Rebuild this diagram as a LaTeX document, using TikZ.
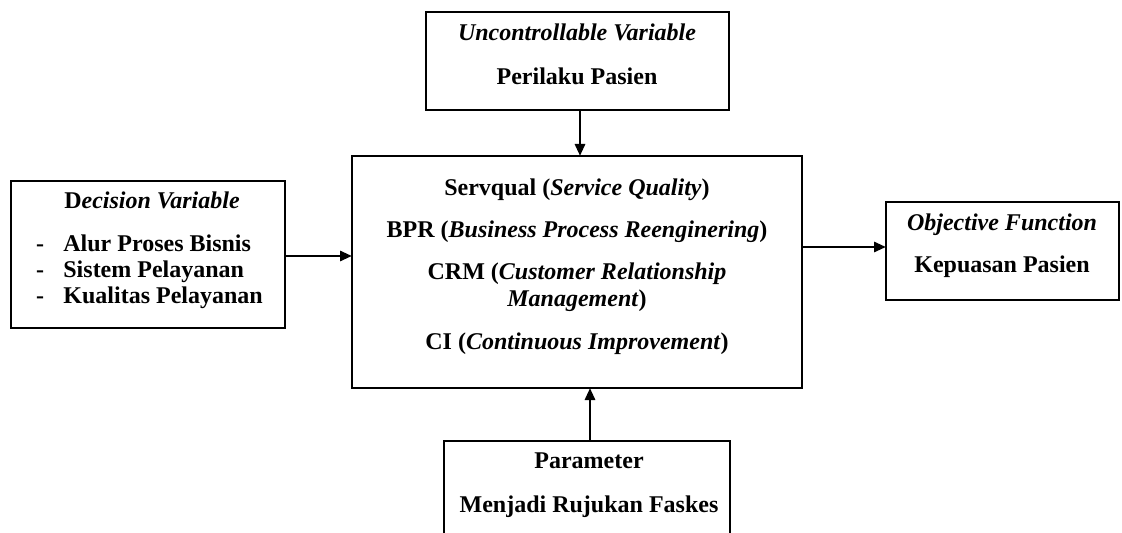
\documentclass[tikz,border=0pt]{standalone}
\usepackage{fontspec}
\setmainfont{Liberation Serif}
\usetikzlibrary{arrows.meta}
\begin{document}
\begin{tikzpicture}[x=0.5pt,y=-0.5pt,
  box/.style={draw,line width=1pt,inner sep=0pt,outer sep=0pt,rectangle},
  txt/.style={font=\fontsize{12pt}{14pt}\selectfont\bfseries,inner sep=0pt,anchor=base},
  arr/.style={line width=1.4pt,-{Triangle[length=6pt,width=5pt]}}]
\clip (0,0) rectangle (1122,533);
\fill[white] (0,0) rectangle (1122,533);
% boxes
\node[box,minimum width=151.5pt,minimum height=49pt] (top) at (577.5,61) {};
\node[box,minimum width=225pt,minimum height=116pt] (main) at (577,272) {};
\node[box,minimum width=137pt,minimum height=73.5pt] (left) at (148,254.5) {};
\node[box,minimum width=116.5pt,minimum height=49pt] (right) at (1002.5,251) {};
\node[box,minimum width=143pt,minimum height=59.5pt] (bot) at (587,500.5) {};
% texts top
\node[txt] (t1) at (577,41) {\textit{Uncontrollable Variable}};
\node[txt] (t2) at (577,85) {Perilaku Pasien};
% main
\node[txt] (m1) at (577,196) {Servqual (\textit{Service Quality})};
\node[txt] (m2) at (577,238) {BPR (\textit{Business Process Reenginering})};
\node[txt] (m3) at (577,280) {CRM (\textit{Customer Relationship}};
\node[txt] (m3b) at (577,307) {\textit{Management})};
\node[txt] (m4) at (577,350) {CI (\textit{Continuous Improvement})};
% left
\node[txt] (l0) at (152,209) {D\textit{ecision Variable}};
\node[txt] (d1) at (40,252) {-};
\node[txt] (d2) at (40,278) {-};
\node[txt] (d3) at (40,304) {-};
\node[txt,anchor=base west] (l1) at (63,252) {Alur Proses Bisnis};
\node[txt,anchor=base west] (l2) at (63,278) {Sistem Pelayanan};
\node[txt,anchor=base west] (l3) at (63,304) {Kualitas Pelayanan};
% right
\node[txt] (r1) at (1002,231) {\textit{Objective Function}};
\node[txt] (r2) at (1002,273) {Kepuasan Pasien};
% bottom
\node[txt] (b1) at (589,468) {Parameter};
\node[txt] (b2) at (589,512) {Menjadi Rujukan Faskes};
% arrows
\draw[arr] (top.south -| 580,0) -- (main.north -| 580,0);
\draw[arr] (left.east |- 0,256) -- (main.west |- 0,256);
\draw[arr] (main.east |- 0,247) -- (right.west |- 0,247);
\draw[arr] (bot.north -| 590,0) -- (main.south -| 590,0);
\end{tikzpicture}
\end{document}
